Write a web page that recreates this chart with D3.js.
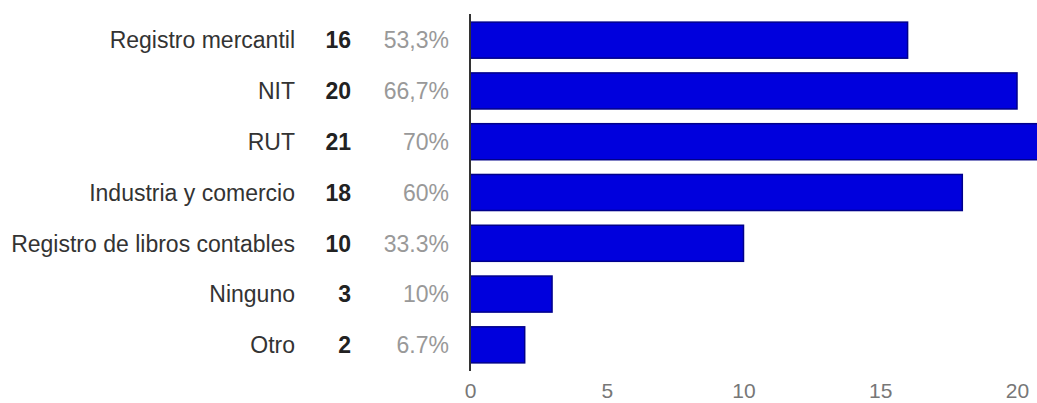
<!DOCTYPE html>
<html>
<head>
<meta charset="utf-8">
<script src="https://cdn.jsdelivr.net/npm/d3@7"></script>
<style>
  html, body { margin: 0; padding: 0; background: #fff; overflow: hidden; }
  svg { display: block; font-family: "Liberation Sans", Arial, sans-serif; }
</style>
</head>
<body>
<svg id="chart" width="1037" height="403"></svg>
<script>
// Requisitos / registros reportados
const categories = ["Registro mercantil", "NIT", "RUT", "Industria y comercio",
                    "Registro de libros contables", "Ninguno", "Otro"];
const counts = [16, 20, 21, 18, 10, 3, 2];
const percents = ["53,3%", "66,7%", "70%", "60%", "33.3%", "10%", "6.7%"];
const xTicks = [0, 5, 10, 15, 20];

const svg = d3.select("#chart");
const W = 1037, H = 403;

const x = d3.scaleLinear().domain([0, 20]).range([470, 1017]);
const y = d3.scaleBand().domain(categories).range([14, 371])
  .paddingInner(0.29).paddingOuter(0.16);

const rows = categories.map((c, i) => ({ cat: c, n: counts[i], pct: percents[i] }));

// bars
svg.append("g").selectAll("rect").data(rows).join("rect")
  .attr("x", x(0))
  .attr("y", d => y(d.cat))
  .attr("width", d => x(d.n) - x(0))
  .attr("height", y.bandwidth())
  .attr("fill", "#0000dd")
  .attr("stroke", "#00008b")
  .attr("stroke-width", 1.5);

// vertical baseline
svg.append("line")
  .attr("x1", x(0)).attr("x2", x(0))
  .attr("y1", 14).attr("y2", 371)
  .attr("stroke", "#333").attr("stroke-width", 2);

// bottom tick labels
const axis = d3.axisBottom(x).tickValues(xTicks).tickSize(0).tickPadding(0);
const gAxis = svg.append("g").attr("transform", "translate(0,383)").call(axis);
gAxis.select(".domain").remove();
gAxis.selectAll("text")
  .attr("font-size", 21)
  .attr("fill", "#777")
  .attr("dy", "0.71em")
  .style("font-family", "'Liberation Sans', Arial, sans-serif");

// table of labels, counts and percentages
const mid = d => y(d.cat) + y.bandwidth() / 2;
const txt = svg.append("g").attr("font-size", 23);

txt.selectAll("text.cat").data(rows).join("text")
  .attr("class", "cat")
  .attr("x", 295).attr("y", mid)
  .attr("dy", "0.36em")
  .attr("text-anchor", "end")
  .attr("fill", "#333")
  .text(d => d.cat);

txt.selectAll("text.n").data(rows).join("text")
  .attr("class", "n")
  .attr("x", 351).attr("y", mid)
  .attr("dy", "0.36em")
  .attr("text-anchor", "end")
  .attr("font-weight", "bold")
  .attr("fill", "#222")
  .text(d => d.n);

txt.selectAll("text.p").data(rows).join("text")
  .attr("class", "p")
  .attr("x", 449).attr("y", mid)
  .attr("dy", "0.36em")
  .attr("text-anchor", "end")
  .attr("fill", "#999")
  .text(d => d.pct);
</script>
</body>
</html>
